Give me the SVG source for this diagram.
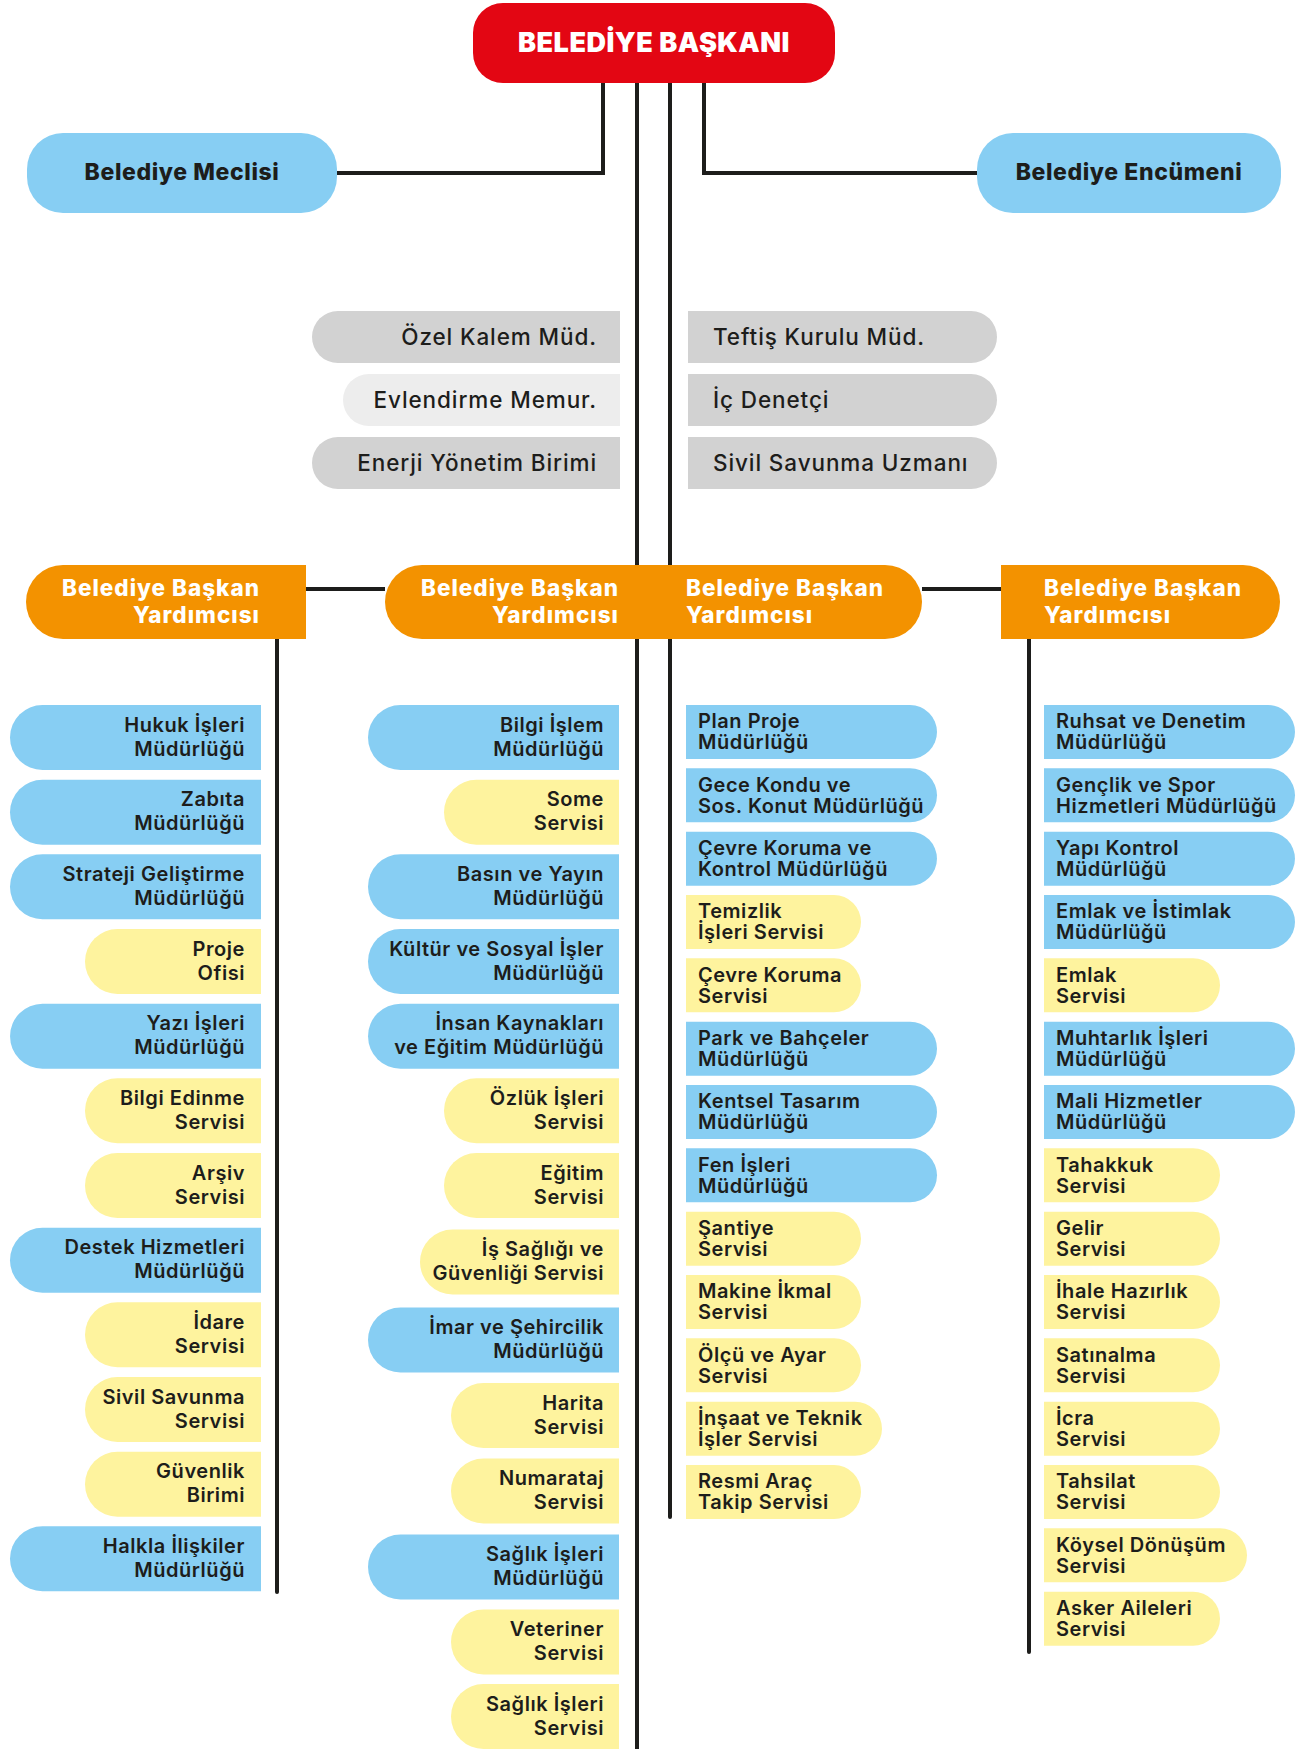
<svg xmlns="http://www.w3.org/2000/svg" width="1299" height="1749" viewBox="0 0 1299 1749">
<style>
.bg{fill:#ffffff}
.red{fill:#E30613}
.b{fill:#87CEF3}
.y{fill:#FEF39E}
.o{fill:#F39200}
.g{fill:#D2D2D2}
.lg{fill:#EDEDED}
.t{font-family:Inter,"Open Sans","DejaVu Sans",sans-serif;font-size:20px;font-weight:600;fill:#1d1d1b;letter-spacing:0.55px}
.gt{font-family:Inter,"Open Sans","DejaVu Sans",sans-serif;font-size:22.5px;font-weight:500;fill:#1d1d1b;letter-spacing:0.9px}
.ot{font-family:Inter,"Open Sans","DejaVu Sans",sans-serif;font-size:22.5px;font-weight:800;fill:#ffffff;letter-spacing:1px}
.ht{font-family:Inter,"Open Sans","DejaVu Sans",sans-serif;font-size:23px;font-weight:800;fill:#1d1d1b;text-anchor:middle;letter-spacing:0.6px}
.tt{font-family:Inter,"Open Sans","DejaVu Sans",sans-serif;font-size:27px;font-weight:900;fill:#ffffff;text-anchor:middle;letter-spacing:0.5px}
.r{text-anchor:end}
.c{stroke:#1d1d1b;stroke-width:4;fill:none}
</style>
<rect class="bg" x="0" y="0" width="1299" height="1749"/>
<g id="connectors" class="c">
<path d="M603,83 V173 H337"/>
<path d="M704,83 V173 H977"/>
<line x1="637" y1="83" x2="637" y2="1749"/>
<line x1="670" y1="83" x2="670" y2="1517" stroke-linecap="round"/>
<line x1="306" y1="589" x2="385" y2="589"/>
<line x1="922" y1="589" x2="1001" y2="589"/>
<line x1="277" y1="639" x2="277" y2="1592" stroke-linecap="round"/>
<line x1="1029" y1="639" x2="1029" y2="1652" stroke-linecap="round"/>
</g>
<g id="baskan"><rect class="red" x="473" y="3" width="362" height="80" rx="30"/><text class="tt" x="654" y="52">BELEDİYE BAŞKANI</text></g>
<g id="meclis"><rect class="b" x="27" y="133" width="310" height="80" rx="36"/><text class="ht" x="182" y="180">Belediye Meclisi</text></g>
<g id="encumen"><rect class="b" x="977" y="133" width="304" height="80" rx="36"/><text class="ht" x="1129" y="180">Belediye Encümeni</text></g>

<g id="ozel-kalem"><path class="g" d="M338,311 H620 V363 H338 A26 26 0 0 1 338,311 Z"/><text class="gt r" x="597" y="345">Özel Kalem Müd.</text></g>
<g id="evlendirme"><path class="lg" d="M369,374 H620 V426 H369 A26 26 0 0 1 369,374 Z"/><text class="gt r" x="597" y="408">Evlendirme Memur.</text></g>
<g id="enerji"><path class="g" d="M338,437 H620 V489 H338 A26 26 0 0 1 338,437 Z"/><text class="gt r" x="597" y="471">Enerji Yönetim Birimi</text></g>
<g id="teftis"><path class="g" d="M688,311 H971 A26 26 0 0 1 971,363 H688 Z"/><text class="gt" x="713" y="345">Teftiş Kurulu Müd.</text></g>
<g id="ic-denetci"><path class="g" d="M688,374 H971 A26 26 0 0 1 971,426 H688 Z"/><text class="gt" x="713" y="408">İç Denetçi</text></g>
<g id="sivil-savunma-uzmani"><path class="g" d="M688,437 H971 A26 26 0 0 1 971,489 H688 Z"/><text class="gt" x="713" y="471">Sivil Savunma Uzmanı</text></g>

<g id="bby1"><path class="o" d="M63,565 H306 V639 H63 A37 37 0 0 1 63,565 Z"/><text class="ot r" x="260" y="596">Belediye Başkan</text><text class="ot r" x="260" y="623">Yardımcısı</text></g>
<g id="bby2"><path class="o" d="M422,565 H654 V639 H422 A37 37 0 0 1 422,565 Z"/><text class="ot r" x="619" y="596">Belediye Başkan</text><text class="ot r" x="619" y="623">Yardımcısı</text></g>
<g id="bby3"><path class="o" d="M653,565 H885 A37 37 0 0 1 885,639 H653 Z"/><text class="ot" x="686" y="596">Belediye Başkan</text><text class="ot" x="686" y="623">Yardımcısı</text></g>
<g id="bby4"><path class="o" d="M1001,565 H1243 A37 37 0 0 1 1243,639 H1001 Z"/><text class="ot" x="1044" y="596">Belediye Başkan</text><text class="ot" x="1044" y="623">Yardımcısı</text></g>

<!-- Column 1 -->
<g id="c1-1"><path class="b" d="M42.5,705 H261 V770 H42.5 A32.5 32.5 0 0 1 42.5,705 Z"/><text class="t r" x="245" y="731.7">Hukuk İşleri</text><text class="t r" x="245" y="755.7">Müdürlüğü</text></g>
<g id="c1-2"><path class="b" d="M42.5,779.7 H261 V844.7 H42.5 A32.5 32.5 0 0 1 42.5,779.7 Z"/><text class="t r" x="245" y="806.4">Zabıta</text><text class="t r" x="245" y="830.4">Müdürlüğü</text></g>
<g id="c1-3"><path class="b" d="M42.5,854.3 H261 V919.3 H42.5 A32.5 32.5 0 0 1 42.5,854.3 Z"/><text class="t r" x="245" y="881">Strateji Geliştirme</text><text class="t r" x="245" y="905">Müdürlüğü</text></g>
<g id="c1-4"><path class="y" d="M117.5,929 H261 V994 H117.5 A32.5 32.5 0 0 1 117.5,929 Z"/><text class="t r" x="245" y="955.7">Proje</text><text class="t r" x="245" y="979.7">Ofisi</text></g>
<g id="c1-5"><path class="b" d="M42.5,1003.7 H261 V1068.7 H42.5 A32.5 32.5 0 0 1 42.5,1003.7 Z"/><text class="t r" x="245" y="1030.4">Yazı İşleri</text><text class="t r" x="245" y="1054.4">Müdürlüğü</text></g>
<g id="c1-6"><path class="y" d="M117.5,1078.3 H261 V1143.3 H117.5 A32.5 32.5 0 0 1 117.5,1078.3 Z"/><text class="t r" x="245" y="1105">Bilgi Edinme</text><text class="t r" x="245" y="1129">Servisi</text></g>
<g id="c1-7"><path class="y" d="M117.5,1153 H261 V1218 H117.5 A32.5 32.5 0 0 1 117.5,1153 Z"/><text class="t r" x="245" y="1179.7">Arşiv</text><text class="t r" x="245" y="1203.7">Servisi</text></g>
<g id="c1-8"><path class="b" d="M42.5,1227.7 H261 V1292.7 H42.5 A32.5 32.5 0 0 1 42.5,1227.7 Z"/><text class="t r" x="245" y="1254.4">Destek Hizmetleri</text><text class="t r" x="245" y="1278.4">Müdürlüğü</text></g>
<g id="c1-9"><path class="y" d="M117.5,1302.3 H261 V1367.3 H117.5 A32.5 32.5 0 0 1 117.5,1302.3 Z"/><text class="t r" x="245" y="1329">İdare</text><text class="t r" x="245" y="1353">Servisi</text></g>
<g id="c1-10"><path class="y" d="M117.5,1377 H261 V1442 H117.5 A32.5 32.5 0 0 1 117.5,1377 Z"/><text class="t r" x="245" y="1403.7">Sivil Savunma</text><text class="t r" x="245" y="1427.7">Servisi</text></g>
<g id="c1-11"><path class="y" d="M117.5,1451.7 H261 V1516.7 H117.5 A32.5 32.5 0 0 1 117.5,1451.7 Z"/><text class="t r" x="245" y="1478.4">Güvenlik</text><text class="t r" x="245" y="1502.4">Birimi</text></g>
<g id="c1-12"><path class="b" d="M42.5,1526.3 H261 V1591.3 H42.5 A32.5 32.5 0 0 1 42.5,1526.3 Z"/><text class="t r" x="245" y="1553">Halkla İlişkiler</text><text class="t r" x="245" y="1577">Müdürlüğü</text></g>

<!-- Column 2 -->
<g id="c2-1"><path class="b" d="M400.5,705 H619 V770 H400.5 A32.5 32.5 0 0 1 400.5,705 Z"/><text class="t r" x="604" y="731.7">Bilgi İşlem</text><text class="t r" x="604" y="755.7">Müdürlüğü</text></g>
<g id="c2-2"><path class="y" d="M476.5,779.7 H619 V844.7 H476.5 A32.5 32.5 0 0 1 476.5,779.7 Z"/><text class="t r" x="604" y="806.4">Some</text><text class="t r" x="604" y="830.4">Servisi</text></g>
<g id="c2-3"><path class="b" d="M400.5,854.3 H619 V919.3 H400.5 A32.5 32.5 0 0 1 400.5,854.3 Z"/><text class="t r" x="604" y="881">Basın ve Yayın</text><text class="t r" x="604" y="905">Müdürlüğü</text></g>
<g id="c2-4"><path class="b" d="M400.5,929 H619 V994 H400.5 A32.5 32.5 0 0 1 400.5,929 Z"/><text class="t r" x="604" y="955.7">Kültür ve Sosyal İşler</text><text class="t r" x="604" y="979.7">Müdürlüğü</text></g>
<g id="c2-5"><path class="b" d="M400.5,1003.7 H619 V1068.7 H400.5 A32.5 32.5 0 0 1 400.5,1003.7 Z"/><text class="t r" x="604" y="1030.4">İnsan Kaynakları</text><text class="t r" x="604" y="1054.4">ve Eğitim Müdürlüğü</text></g>
<g id="c2-6"><path class="y" d="M476.5,1078.3 H619 V1143.3 H476.5 A32.5 32.5 0 0 1 476.5,1078.3 Z"/><text class="t r" x="604" y="1105">Özlük İşleri</text><text class="t r" x="604" y="1129">Servisi</text></g>
<g id="c2-7"><path class="y" d="M476.5,1153 H619 V1218 H476.5 A32.5 32.5 0 0 1 476.5,1153 Z"/><text class="t r" x="604" y="1179.7">Eğitim</text><text class="t r" x="604" y="1203.7">Servisi</text></g>
<g id="c2-8"><path class="y" d="M452.5,1229.5 H619 V1294.5 H452.5 A32.5 32.5 0 0 1 452.5,1229.5 Z"/><text class="t r" x="604" y="1256.2">İş Sağlığı ve</text><text class="t r" x="604" y="1280.2">Güvenliği Servisi</text></g>
<g id="c2-9"><path class="b" d="M400.5,1307.5 H619 V1372.5 H400.5 A32.5 32.5 0 0 1 400.5,1307.5 Z"/><text class="t r" x="604" y="1334.2">İmar ve Şehircilik</text><text class="t r" x="604" y="1358.2">Müdürlüğü</text></g>
<g id="c2-10"><path class="y" d="M483.5,1383 H619 V1448 H483.5 A32.5 32.5 0 0 1 483.5,1383 Z"/><text class="t r" x="604" y="1409.7">Harita</text><text class="t r" x="604" y="1433.7">Servisi</text></g>
<g id="c2-11"><path class="y" d="M483.5,1458.5 H619 V1523.5 H483.5 A32.5 32.5 0 0 1 483.5,1458.5 Z"/><text class="t r" x="604" y="1485.2">Numarataj</text><text class="t r" x="604" y="1509.2">Servisi</text></g>
<g id="c2-12"><path class="b" d="M400.5,1534.5 H619 V1599.5 H400.5 A32.5 32.5 0 0 1 400.5,1534.5 Z"/><text class="t r" x="604" y="1561.2">Sağlık İşleri</text><text class="t r" x="604" y="1585.2">Müdürlüğü</text></g>
<g id="c2-13"><path class="y" d="M483.5,1609.5 H619 V1674.5 H483.5 A32.5 32.5 0 0 1 483.5,1609.5 Z"/><text class="t r" x="604" y="1636.2">Veteriner</text><text class="t r" x="604" y="1660.2">Servisi</text></g>
<g id="c2-14"><path class="y" d="M483.5,1684 H619 V1749 H483.5 A32.5 32.5 0 0 1 483.5,1684 Z"/><text class="t r" x="604" y="1710.7">Sağlık İşleri</text><text class="t r" x="604" y="1734.7">Servisi</text></g>

<!-- Column 3 -->
<g id="c3-1"><path class="b" d="M686,705 H910 A27 27 0 0 1 910,759 H686 Z"/><text class="t" x="698" y="728.3">Plan Proje</text><text class="t" x="698" y="749.3">Müdürlüğü</text></g>
<g id="c3-2"><path class="b" d="M686,768.3 H910 A27 27 0 0 1 910,822.3 H686 Z"/><text class="t" x="698" y="791.6">Gece Kondu ve</text><text class="t" x="698" y="812.6">Sos. Konut Müdürlüğü</text></g>
<g id="c3-3"><path class="b" d="M686,831.7 H910 A27 27 0 0 1 910,885.7 H686 Z"/><text class="t" x="698" y="855">Çevre Koruma ve</text><text class="t" x="698" y="876">Kontrol Müdürlüğü</text></g>
<g id="c3-4"><path class="y" d="M686,895 H834 A27 27 0 0 1 834,949 H686 Z"/><text class="t" x="698" y="918.3">Temizlik</text><text class="t" x="698" y="939.3">İşleri Servisi</text></g>
<g id="c3-5"><path class="y" d="M686,958.3 H834 A27 27 0 0 1 834,1012.3 H686 Z"/><text class="t" x="698" y="981.6">Çevre Koruma</text><text class="t" x="698" y="1002.6">Servisi</text></g>
<g id="c3-6"><path class="b" d="M686,1021.7 H910 A27 27 0 0 1 910,1075.7 H686 Z"/><text class="t" x="698" y="1045">Park ve Bahçeler</text><text class="t" x="698" y="1066">Müdürlüğü</text></g>
<g id="c3-7"><path class="b" d="M686,1085 H910 A27 27 0 0 1 910,1139 H686 Z"/><text class="t" x="698" y="1108.3">Kentsel Tasarım</text><text class="t" x="698" y="1129.3">Müdürlüğü</text></g>
<g id="c3-8"><path class="b" d="M686,1148.3 H910 A27 27 0 0 1 910,1202.3 H686 Z"/><text class="t" x="698" y="1171.6">Fen İşleri</text><text class="t" x="698" y="1192.6">Müdürlüğü</text></g>
<g id="c3-9"><path class="y" d="M686,1211.7 H834 A27 27 0 0 1 834,1265.7 H686 Z"/><text class="t" x="698" y="1235">Şantiye</text><text class="t" x="698" y="1256">Servisi</text></g>
<g id="c3-10"><path class="y" d="M686,1275 H834 A27 27 0 0 1 834,1329 H686 Z"/><text class="t" x="698" y="1298.3">Makine İkmal</text><text class="t" x="698" y="1319.3">Servisi</text></g>
<g id="c3-11"><path class="y" d="M686,1338.3 H834 A27 27 0 0 1 834,1392.3 H686 Z"/><text class="t" x="698" y="1361.6">Ölçü ve Ayar</text><text class="t" x="698" y="1382.6">Servisi</text></g>
<g id="c3-12"><path class="y" d="M686,1401.7 H855 A27 27 0 0 1 855,1455.7 H686 Z"/><text class="t" x="698" y="1425">İnşaat ve Teknik</text><text class="t" x="698" y="1446">İşler Servisi</text></g>
<g id="c3-13"><path class="y" d="M686,1465 H834 A27 27 0 0 1 834,1519 H686 Z"/><text class="t" x="698" y="1488.3">Resmi Araç</text><text class="t" x="698" y="1509.3">Takip Servisi</text></g>

<!-- Column 4 -->
<g id="c4-1"><path class="b" d="M1044,705 H1268 A27 27 0 0 1 1268,759 H1044 Z"/><text class="t" x="1056" y="728.3">Ruhsat ve Denetim</text><text class="t" x="1056" y="749.3">Müdürlüğü</text></g>
<g id="c4-2"><path class="b" d="M1044,768.3 H1268 A27 27 0 0 1 1268,822.3 H1044 Z"/><text class="t" x="1056" y="791.6">Gençlik ve Spor</text><text class="t" x="1056" y="812.6">Hizmetleri Müdürlüğü</text></g>
<g id="c4-3"><path class="b" d="M1044,831.7 H1268 A27 27 0 0 1 1268,885.7 H1044 Z"/><text class="t" x="1056" y="855">Yapı Kontrol</text><text class="t" x="1056" y="876">Müdürlüğü</text></g>
<g id="c4-4"><path class="b" d="M1044,895 H1268 A27 27 0 0 1 1268,949 H1044 Z"/><text class="t" x="1056" y="918.3">Emlak ve İstimlak</text><text class="t" x="1056" y="939.3">Müdürlüğü</text></g>
<g id="c4-5"><path class="y" d="M1044,958.3 H1193 A27 27 0 0 1 1193,1012.3 H1044 Z"/><text class="t" x="1056" y="981.6">Emlak</text><text class="t" x="1056" y="1002.6">Servisi</text></g>
<g id="c4-6"><path class="b" d="M1044,1021.7 H1268 A27 27 0 0 1 1268,1075.7 H1044 Z"/><text class="t" x="1056" y="1045">Muhtarlık İşleri</text><text class="t" x="1056" y="1066">Müdürlüğü</text></g>
<g id="c4-7"><path class="b" d="M1044,1085 H1268 A27 27 0 0 1 1268,1139 H1044 Z"/><text class="t" x="1056" y="1108.3">Mali Hizmetler</text><text class="t" x="1056" y="1129.3">Müdürlüğü</text></g>
<g id="c4-8"><path class="y" d="M1044,1148.3 H1193 A27 27 0 0 1 1193,1202.3 H1044 Z"/><text class="t" x="1056" y="1171.6">Tahakkuk</text><text class="t" x="1056" y="1192.6">Servisi</text></g>
<g id="c4-9"><path class="y" d="M1044,1211.7 H1193 A27 27 0 0 1 1193,1265.7 H1044 Z"/><text class="t" x="1056" y="1235">Gelir</text><text class="t" x="1056" y="1256">Servisi</text></g>
<g id="c4-10"><path class="y" d="M1044,1275 H1193 A27 27 0 0 1 1193,1329 H1044 Z"/><text class="t" x="1056" y="1298.3">İhale Hazırlık</text><text class="t" x="1056" y="1319.3">Servisi</text></g>
<g id="c4-11"><path class="y" d="M1044,1338.3 H1193 A27 27 0 0 1 1193,1392.3 H1044 Z"/><text class="t" x="1056" y="1361.6">Satınalma</text><text class="t" x="1056" y="1382.6">Servisi</text></g>
<g id="c4-12"><path class="y" d="M1044,1401.7 H1193 A27 27 0 0 1 1193,1455.7 H1044 Z"/><text class="t" x="1056" y="1425">İcra</text><text class="t" x="1056" y="1446">Servisi</text></g>
<g id="c4-13"><path class="y" d="M1044,1465 H1193 A27 27 0 0 1 1193,1519 H1044 Z"/><text class="t" x="1056" y="1488.3">Tahsilat</text><text class="t" x="1056" y="1509.3">Servisi</text></g>
<g id="c4-14"><path class="y" d="M1044,1528.3 H1220 A27 27 0 0 1 1220,1582.3 H1044 Z"/><text class="t" x="1056" y="1551.6">Köysel Dönüşüm</text><text class="t" x="1056" y="1572.6">Servisi</text></g>
<g id="c4-15"><path class="y" d="M1044,1591.7 H1193 A27 27 0 0 1 1193,1645.7 H1044 Z"/><text class="t" x="1056" y="1615">Asker Aileleri</text><text class="t" x="1056" y="1636">Servisi</text></g>
</svg>
